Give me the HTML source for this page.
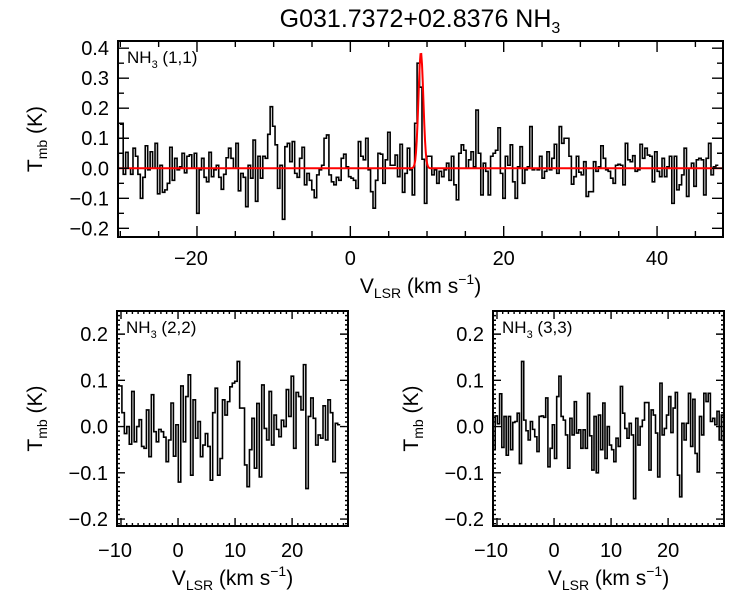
<!DOCTYPE html>
<html><head><meta charset="utf-8">
<style>
html,body{margin:0;padding:0;background:#fff;}
svg{display:block;font-family:"Liberation Sans",Arial,sans-serif;}
</style></head>
<body>
<svg id="chart" width="750" height="600" viewBox="0 0 750 600">
<text x="420" y="27" font-size="25" text-anchor="middle">G031.7372+02.8376 NH<tspan font-size="16" dy="6">3</tspan></text>
</svg>
<script>
// ---- data ----
const topValues = [0.078,-0.04,0.15,0.147,-0.02,0.053,0,-0.02,0.067,0.04,-0.02,-0.10,-0.03,0.075,-0.005,0.055,0,0.083,-0.085,0.01,-0.08,-0.072,-0.05,0.07,-0.04,0.033,-0.005,0.005,0.05,-0.015,0.04,0.045,0,0.05,-0.15,-0.005,0.033,-0.03,-0.045,0.053,-0.028,-0.005,0.01,-0.03,-0.07,-0.02,0.035,0.067,0.033,0,0.083,-0.075,-0.017,-0.03,-0.128,0.01,-0.033,0.094,-0.11,0.04,-0.033,0.04,
0.033,0.113,0.205,0.14,0.078,-0.067,0.01,-0.17,0.072,0.083,0.022,0.089,-0.017,-0.03,0.033,0.07,-0.055,-0.017,-0.04,-0.072,-0.098,-0.022,-0.005,0.01,0.1,0.111,-0.022,-0.045,-0.055,-0.03,-0.04,0.033,0.047,0.005,-0.028,-0.033,-0.04,-0.067,0.089,0.04,0.028,0.1,-0.005,-0.078,-0.133,-0.04,0.05,0.047,-0.05,0.028,0.12,0.01,0.01,0.044,-0.028,0.08,-0.08,-0.017,0.067,-0.005,-0.089,
0.15,0.35,0.27,0.03,-0.117,
0.04,0.04,-0.022,-0.005,-0.05,-0.01,-0.028,-0.005,0.017,-0.04,0.04,-0.055,-0.105,0.05,0.078,0.06,0,0.028,0.055,0.005,0.194,0.05,-0.089,0.017,-0.01,-0.089,0.04,0.05,0.06,0.135,-0.017,-0.1,0.04,0.01,0.078,-0.045,-0.1,0.005,0.072,-0.05,-0.005,0.005,0.139,-0.005,0,-0.005,0.04,-0.033,-0.01,0.055,-0.005,0.033,0.08,-0.017,0.139,0.083,0.1,
0.1,0.04,-0.053,-0.028,0.04,-0.013,-0.022,0.022,-0.094,-0.078,-0.078,0.022,-0.01,0.005,0.075,0.033,-0.005,-0.01,-0.033,-0.05,0.01,0.013,0.01,-0.055,0.083,0.028,0.022,0.042,-0.01,-0.005,0.08,0.033,0.067,0.044,0.04,-0.045,0.055,-0.01,-0.028,0.033,-0.028,0.005,0.04,-0.117,0.04,-0.072,-0.055,-0.022,0.067,-0.094,0,0.017,-0.06,0.028,0.033,0.028,-0.089,0.033,0.083,-0.022,0.005,0.01];
const topV0 = -30.9, topDv = 0.3194;
const fitCenter = 9.2, fitAmp = 0.385, fitSigma = 0.32;

const v22Values = [0.088,0.088,0.03,-0.015,0,-0.038,0.076,-0.033,0,0.015,-0.043,-0.047,0.036,-0.065,0.069,-0.011,-0.033,-0.006,-0.011,-0.023,-0.076,-0.029,0.051,-0.064,0.004,-0.12,0.088,-0.033,0.065,0.112,-0.105,0.058,-0.025,0.011,-0.065,-0.04,-0.015,-0.043,-0.116,0.03,0.083,-0.105,-0.069,0.058,0.025,0.054,0.086,0.094,
0.098,0.141,0.04,0.04,-0.083,-0.13,-0.05,0.018,-0.09,0.05,-0.109,0.09,-0.004,-0.029,0.076,-0.04,0.025,-0.006,-0.022,0.014,0,0.08,0.022,0.109,-0.047,0.074,0.065,0.036,0.134,-0.134,0.022,0.062,0.018,-0.04,-0.018,-0.025,0.045,-0.029,0.058,0.03,-0.076,0.007,0.004];
const v22V0 = -10.7, v22Dv = 0.43;

const v33Values = [-0.05,0.023,0.006,0.071,-0.045,0.022,-0.062,0.022,-0.05,0.009,0.011,0.029,-0.08,0.141,0.014,-0.009,-0.029,0.011,-0.006,-0.022,-0.054,0.022,0.023,0.02,0.062,-0.087,-0.047,0.004,-0.069,0.065,0.109,0.022,0.014,-0.018,-0.09,0.018,-0.018,0.054,-0.014,-0.007,-0.047,-0.007,-0.047,0.072,-0.02,-0.094,0.022,-0.1,0.025,-0.05,0.051,-0.069,
0,-0.04,-0.05,-0.076,-0.025,-0.043,0.087,0.029,-0.004,-0.025,0.007,-0.018,-0.156,0.018,-0.04,0,0.014,0.052,0.052,-0.094,0.036,0.025,-0.014,-0.109,0.094,-0.018,-0.004,0.025,0.065,-0.013,0.04,0.074,-0.105,-0.152,0.007,-0.029,0.007,0.072,-0.043,0.059,-0.058,-0.098,0.022,-0.018,0.072,0.054,0.072,0.011,0.018,0.004,0.033,-0.029,0.025,-0.09,0.029];
const v33V0 = -10.7, v33Dv = 0.385;

const topYTicks = [0.4,0.3,0.2,0.1,0.0,-0.1,-0.2];
const topYLabels = ["0.4","0.3","0.2","0.1","0.0","\u22120.1","\u22120.2"];
const topXTicks = [-20,0,20,40];
const topXLabels = ["\u221220","0","20","40"];
const botYTicks = [0.2,0.1,0.0,-0.1,-0.2];
const botYLabels = ["0.2","0.1","0.0","\u22120.1","\u22120.2"];
const botXTicks = [-10,0,10,20];
const botXLabels = ["\u221210","0","10","20"];

// ---- drawing ----
const NS = "http://www.w3.org/2000/svg";
const svg = document.getElementById("chart");
function mk(tag, attrs, parent) {
  const e = document.createElementNS(NS, tag);
  for (const k in attrs) e.setAttribute(k, attrs[k]);
  (parent || svg).appendChild(e);
  return e;
}

function panel(p) {
  const g = mk("g", {});
  
  
  const sx = v => p.x0 + (v - p.xmin) / (p.xmax - p.xmin) * (p.x1 - p.x0);
  const sy = v => p.y1 - (v - p.ymin) / (p.ymax - p.ymin) * (p.y1 - p.y0);
  const clipId = "clip-" + p.name;
  const cp = mk("clipPath", {id: clipId}, g);
  mk("rect", {x: p.x0, y: p.y0, width: p.x1 - p.x0, height: p.y1 - p.y0}, cp);

  let d = "";
  p.values.forEach((v, i) => {
    const xa = sx(p.v0 + i * p.dv), xb = sx(p.v0 + (i + 1) * p.dv), y = sy(v);
    d += (i === 0 ? "M" : "L") + xa.toFixed(2) + "," + y.toFixed(2) + "L" + xb.toFixed(2) + "," + y.toFixed(2);
  });
  const spec = mk("path", {d: d, fill: "none", stroke: "#000", "stroke-width": 1.6, "clip-path": "url(#" + clipId + ")"}, g);
  
  

  if (p.fit) {
    let fd = "";
    for (let k = 0; k <= 800; k++) {
      const v = p.xmin + k / 800 * (p.xmax - p.xmin);
      const y = p.fit.amp * Math.exp(-0.5 * Math.pow((v - p.fit.c) / p.fit.s, 2));
      fd += (k === 0 ? "M" : "L") + sx(v).toFixed(2) + "," + sy(y).toFixed(2);
    }
    const fit = mk("path", {d: fd, fill: "none", stroke: "#ff0000", "stroke-width": 2, "clip-path": "url(#" + clipId + ")"}, g);
    
    
  }

  const fr = mk("rect", {x: p.x0, y: p.y0, width: p.x1 - p.x0, height: p.y1 - p.y0, fill: "none", stroke: "#000", "stroke-width": 2}, g);
  
  

  let td = "";
  const eps = 1e-6;
  for (let v = Math.ceil(p.xmin / p.xminor) * p.xminor; v <= p.xmax + eps; v += p.xminor) {
    const isMaj = Math.abs(v / p.xmajor - Math.round(v / p.xmajor)) < 1e-4;
    const L = isMaj ? p.majLen : p.minLen, x = sx(v).toFixed(2);
    td += `M${x},${p.y1}v${-L}M${x},${p.y0}v${L}`;
  }
  for (let v = Math.ceil(p.ymin / p.yminor) * p.yminor; v <= p.ymax + eps; v += p.yminor) {
    const isMaj = Math.abs(v / p.ymajor - Math.round(v / p.ymajor)) < 1e-4;
    const L = isMaj ? p.majLen : p.minLen, y = sy(v).toFixed(2);
    td += `M${p.x0},${y}h${L}M${p.x1},${y}h${-L}`;
  }
  const tk = mk("path", {d: td, stroke: "#000", "stroke-width": 1.4, fill: "none"}, g);
  
  

  p.yticks.forEach((v, i) => {
    const t = mk("text", {x: p.x0 - 9, y: sy(v) + 7, "font-size": 20, "text-anchor": "end"}, g);
    t.textContent = p.ylabels[i];
    
    
  });
  p.xticks.forEach((v, i) => {
    const t = mk("text", {x: sx(v) - (p.xlabels[i].startsWith("\u2212") ? 6 : 0), y: p.xlabY, "font-size": 20, "text-anchor": "middle"}, g);
    t.textContent = p.xlabels[i];
    
    
  });

  const xt = mk("text", {x: (p.x0 + p.x1) / 2, y: p.xtitleY, "font-size": 21, "text-anchor": "middle"}, g);
  xt.innerHTML = 'V<tspan font-size="14" dy="5">LSR</tspan><tspan dy="-5"> (km s</tspan><tspan font-size="14" dy="-9">\u22121</tspan><tspan dy="9">)</tspan>';
  
  

  const cy = (p.y0 + p.y1) / 2;
  const yt = mk("text", {x: p.ytitleX, y: cy, "font-size": 21, "text-anchor": "middle", transform: `rotate(-90 ${p.ytitleX} ${cy})`}, g);
  yt.innerHTML = 'T<tspan font-size="14" dy="5">mb</tspan><tspan dy="-5"> (K)</tspan>';
  
  

  const lg = mk("text", {x: p.x0 + 9, y: p.y0 + 22, "font-size": 17}, g);
  lg.innerHTML = 'NH<tspan font-size="11" dy="5">3</tspan><tspan dy="-5"> ' + p.legend + '</tspan>';
  
  
}

panel({name: "nh3-11-panel", x0: 118, x1: 723, y0: 41, y1: 237, xmin: -30.3, xmax: 48.6, ymin: -0.229, ymax: 0.424,
  values: topValues, v0: topV0, dv: topDv, fit: {c: fitCenter, amp: fitAmp, s: fitSigma},
  xmajor: 20, xminor: 5, ymajor: 0.1, yminor: 0.05, majLen: 11, minLen: 6,
  yticks: topYTicks, ylabels: topYLabels, xticks: topXTicks, xlabels: topXLabels,
  xlabY: 265, xtitleY: 293, ytitleX: 42, legend: "(1,1)"});

panel({name: "nh3-22-panel", x0: 117, x1: 348, y0: 311, y1: 526, xmin: -10.7, xmax: 29.8, ymin: -0.215, ymax: 0.25,
  values: v22Values, v0: v22V0, dv: v22Dv, fit: null,
  xmajor: 10, xminor: 1, ymajor: 0.1, yminor: 0.01, majLen: 8, minLen: 3,
  yticks: botYTicks, ylabels: botYLabels, xticks: botXTicks, xlabels: botXLabels,
  xlabY: 557, xtitleY: 585, ytitleX: 42, legend: "(2,2)"});

panel({name: "nh3-33-panel", x0: 493, x1: 724, y0: 311, y1: 526, xmin: -10.7, xmax: 29.8, ymin: -0.215, ymax: 0.25,
  values: v33Values, v0: v33V0, dv: v33Dv, fit: null,
  xmajor: 10, xminor: 1, ymajor: 0.1, yminor: 0.01, majLen: 8, minLen: 3,
  yticks: botYTicks, ylabels: botYLabels, xticks: botXTicks, xlabels: botXLabels,
  xlabY: 557, xtitleY: 585, ytitleX: 418, legend: "(3,3)"});
</script>
</body></html>
